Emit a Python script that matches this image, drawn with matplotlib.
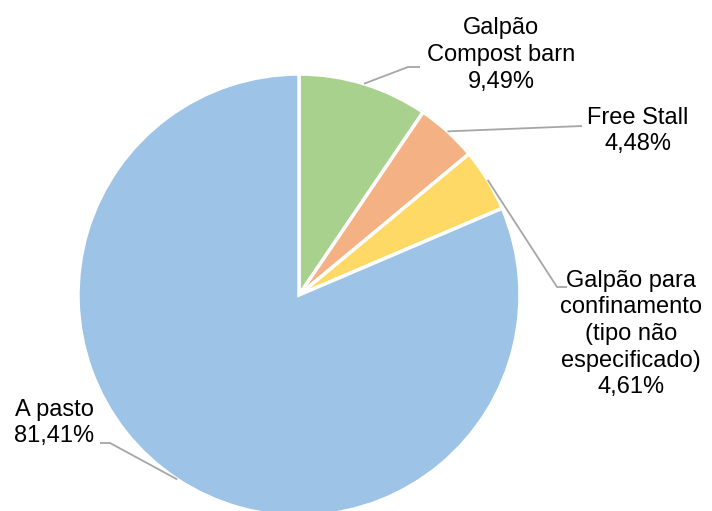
import numpy as np
import matplotlib.pyplot as plt

plt.rcParams["font.family"] = ["Liberation Sans", "DejaVu Sans"]

# housing systems, share of farms (%)
labels = ["Galpão\nCompost barn", "Free Stall",
          "Galpão para\nconfinamento\n(tipo não\nespecificado)", "A pasto"]
shares = [9.49, 4.48, 4.61, 81.41]
colors = ["#A9D18E", "#F4B183", "#FFD966", "#9DC3E6"]

W, H = 712, 511
CX, CY, R = 299, 295, 221  # pie centre and radius in pixels


def px(x, y):
    return (x - CX) / R, (CY - y) / R


# elbow point, end of leader and text centre for each label (pixels)
elbows = [(408, 67), (582, 126), (557, 287), (110, 443)]
ends = [(420, 67), (582, 126), (567, 287), (100, 443)]
text_pos = [(501, 55), (638, 131), (631, 334), (54, 423)]

fig = plt.figure(figsize=(W / 100, H / 100), dpi=100)
ax = fig.add_axes([0, 0, 1, 1])

wedges, _ = ax.pie(shares, colors=colors, startangle=90, counterclock=False,
                   radius=1, center=(0, 0),
                   wedgeprops=dict(edgecolor="white", linewidth=2.5))

ax.set_aspect("auto")
ax.set_xlim(-CX / R, (W - CX) / R)
ax.set_ylim(-(H - CY) / R, CY / R)
ax.axis("off")

for w, lab, val, el, en, tp in zip(wedges, labels, shares, elbows, ends, text_pos):
    ang = np.deg2rad((w.theta1 + w.theta2) / 2)
    x0, y0 = np.cos(ang), np.sin(ang)
    ex, ey = px(*el)
    nx, ny = px(*en)
    ax.plot([x0, ex, nx], [y0, ey, ny], color="#A6A6A6", lw=1.3,
            solid_capstyle="butt")
    tx, ty = px(*tp)
    txt = f"{lab}\n{val:.2f}%".replace(".", ",")
    ax.text(tx, ty, txt, ha="center", va="center", fontsize=17,
            linespacing=1.27, color="black")

fig.savefig("out.png", dpi=100)
